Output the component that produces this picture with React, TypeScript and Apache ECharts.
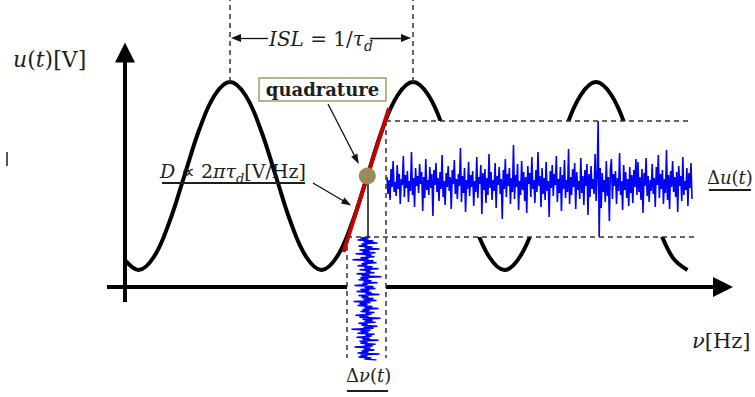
import React, { useEffect, useRef } from "react";
import * as echarts from "echarts";

// Transfer curve u(ν): frequency offset from the u-axis (ν) and output level (u), in diagram units
const curveNu = [0, 13.5, 28.8, 44, 59.3, 74.5, 89.8, 105, 120.3, 135.5, 150.8, 166, 181.3, 196.5, 211.8, 227, 242.3, 257.5, 272.8, 288, 303.3, 318.5, 333.8, 349, 364.3, 379.5, 394.8, 410, 425.3, 440.5, 455.8, 471, 486.3, 501.5, 516.8, 532, 547.3, 562.5];
const curveU = [27, 17, 30, 64, 111, 158, 192, 205, 192, 158, 111, 64, 30, 17, 30, 64, 111, 158, 192, 205, 192, 158, 111, 64, 30, 17, 30, 64, 111, 158, 192, 205, 192, 158, 111, 64, 30, 17];

// Output voltage noise Δu(t)
const noiseU = [
  6, -11, 3, -17, 14, -4, 22, -9, 1, -13, 18, -6, 9, -21, 4, -2, 27, -14, 8, -5,
  12, -19, 2, -8, 31, -12, 5, -24, 15, -3, 7, -10, 19, -1, 11, -28, 6, -15, 24, -7,
  3, -12, 16, -5, 9, -33, 13, -2, 20, -9, 5, -18, 11, -6, 28, -14, 2, -22, 10, -4,
  17, -8, 6, -26, 13, -1, 23, -11, 4, -16, 9, -3, 35, -19, 7, -10, 15, -29, 3, -6,
  21, -13, 8, -4, 12, -23, 2, -9, 26, -15, 6, -1, 18, -31, 10, -7, 14, -20, 5, -12,
  29, -5, 11, -17, 3, -8, 20, -25, 7, -2, 16, -11, 4, -36, 13, -6, 24, -14, 9, -3,
  15, -21, 5, -9, 38, -16, 8, -4, 19, -27, 2, -12, 22, -7, 11, -18, 6, -30, 17, -1,
  10, -14, 26, -6, 3, -20, 13, -9, 31, -3, 7, -24, 15, -11, 5, -17, 21, -8, 2, -34,
  12, -5, 18, -13, 9, -2, 27, -19, 4, -10, 16, -28, 8, -6, 23, -15, 3, -9, 34, -21,
  6, -12, 14, -4, 20, -26, 11, -7, 2, -16, 25, -10, 7, -22, 13, -3, 19, -32, 9, -14,
  17, -6, 4, -11, 29, -18, 8, 62, -54, 15, -25, 10, -9, 3, -19, 22, -13, 6, -38, 14,
  24, -16, 9, -3, 12, -21, 5, -8, 30, -12, 2, -27, 18, -7, 11, -15, 4, -23, 16, -10,
  8, -20, 13, -4, 24, -12, 21, -9, 6, -17, 14, -30, 10, -3, 25, -13, 7, -19, 3, -8,
  19, -11, 5, -24, 16, -2, 28, -15, 9, -6, 13, -21, 4, -10, 33, -17, 8, -26, 12, -4,
  22, -9, 6, -14, 11, -29, 17, -3, 7, -18, 26, -12, 2, -7, 15, -23, 10, -5, 20, -16,
];

// Input frequency noise Δν(t)
const noiseNu = [
  4, -6, 2, -9, 7, -3, 11, -5, 1, -8, 6, -2, 13, -7, 3, -4, 9, -11, 5, -1, 8, -6, 2, -14, 7,
  -3, 10, -5, 1, -9, 6, -2, 12, -7, 4, -1, 8, -10, 3, -5, 15, -6, 2, -8, 5, -3, 11, -4, 1, -12,
  7, -2, 9, -6, 3, -10, 5, -1, 13, -8, 2, -5, 7, -3, 10, -13, 4, -7, 1, -9, 6, -2, 12, -4, 3,
  -6, 8, -1, 5, -11, 2, -7, 14, -4, 6, -2, 9, -8, 1, -5, 11, -3, 7, -15, 4, -6, 2, -9, 8, -1,
  5, -10, 3, -4, 12, -7, 1, -6, 9, -2, 6, -12, 4, -3, 8, -5, 2, -9, 13, -6, 1, -8, 5, -2, 10,
];

// Quadrature operating point and its tangent (slope D)
const quadraturePoint = [242.3, 111];
const tangentFrom = [218.5, 35];
const tangentTo = [264, 179];
// Noise windows [ν0, u0, ν1, u1]
const noiseWindows = [
  [261, 50, 568, 166],
  [222, -71, 261, 50],
];
// Peaks delimiting the ISL
const islPeaks = [105, 288];

const F = '"DejaVu Serif", "Liberation Serif", serif';
const INK = "#1e1e1e";

function rich(size: number) {
  const lh = size + 8;
  return {
    i: { fontFamily: F, fontStyle: "italic", fontSize: size, lineHeight: lh, verticalAlign: "middle", fill: INK },
    r: { fontFamily: F, fontSize: size, lineHeight: lh, verticalAlign: "middle", fill: INK },
    p: { fontFamily: '"DejaVu Sans", sans-serif', fontSize: size, lineHeight: lh, verticalAlign: "middle", fill: INK },
    s: { fontFamily: F, fontStyle: "italic", fontSize: Math.round(size * 0.68), lineHeight: Math.round(size * 0.68), verticalAlign: "bottom", fill: INK },
  };
}

function mathText(text: string, x: number, y: number, size: number) {
  return {
    type: "text",
    x,
    y,
    z: 20,
    silent: true,
    style: { text, rich: rich(size), align: "left", verticalAlign: "middle", fill: INK, fontFamily: F, fontSize: size },
  };
}

function underline(x1: number, x2: number, y: number) {
  return { type: "line", z: 20, silent: true, shape: { x1, y1: y, x2, y2: y }, style: { stroke: INK, lineWidth: 2 } };
}

const dashed = { type: [5, 4], color: "#333", width: 1.5 };
const thin = { type: "solid", color: "#111", width: 1.3 };
const axisStyle = { type: "solid", color: "#000", width: 4 };

function seg(a: number[], b: number[], style: any, endSymbol = "none", endSize: any = 0) {
  return [
    { coord: a, symbol: "none", lineStyle: style },
    { coord: b, symbol: endSymbol, symbolSize: endSize, lineStyle: style },
  ];
}

export default function App() {
  const ref = useRef<HTMLDivElement>(null);
  useEffect(() => {
    if (!ref.current) return;
    const chart = echarts.init(ref.current, undefined, { renderer: "svg" });
    const markLines = [
      // axes
      seg([0, -15], [0, 234.5], axisStyle, "triangle", [20, 20]),
      seg([-18, 0], [222, 0], axisStyle),
      seg([261, 0], [598, 0], axisStyle, "triangle", [20, 20]),
      // ISL dashed verticals
      seg([islPeaks[0], 205], [islPeaks[0], 287], dashed),
      seg([islPeaks[1], 205], [islPeaks[1], 287], dashed),
      // ISL arrows
      seg([143, 249], [111, 249], thin, "triangle", [8, 10]),
      seg([245, 249], [281, 249], thin, "triangle", [8, 10]),
      // noise windows
      seg([261, 166], [567, 166], dashed),
      seg([222, 50], [570, 50], dashed),
      seg([261, 166], [261, -71], dashed),
      seg([222, 50], [222, -71], dashed),
      // pointer arrows
      seg([203, 183], [231.5, 127.5], thin, "triangle", [7, 10]),
      seg([188, 104], [222, 84], thin, "triangle", [7, 10]),
      // drop line from quadrature point
      seg(quadraturePoint, [quadraturePoint[0], 50], { type: "solid", color: "#111", width: 1.5 }),
      // tangent
      seg(tangentFrom, tangentTo, { type: "solid", color: "#c40000", width: 4 }),
    ];

    const option: any = {
      animation: false,
      backgroundColor: "#fff",
      grid: [
        { left: 0, right: 0, top: 0, bottom: 0 },
        { left: 387, top: 121, width: 305, height: 116 },
        { left: 347, top: 237, width: 39, height: 123 },
      ],
      xAxis: [
        { type: "value", gridIndex: 0, min: -125, max: 630, show: false },
        { type: "category", gridIndex: 1, data: noiseU.map((_, i) => String(i)), boundaryGap: false, show: false },
        { type: "value", gridIndex: 2, min: -19.5, max: 19.5, show: false },
      ],
      yAxis: [
        { type: "value", gridIndex: 0, min: -110, max: 287, show: false },
        { type: "value", gridIndex: 1, min: -54, max: 62, show: false },
        { type: "category", gridIndex: 2, data: noiseNu.map((_, i) => String(i)), boundaryGap: false, inverse: true, show: false },
      ],
      series: [
        {
          type: "line",
          name: "u",
          xAxisIndex: 0,
          yAxisIndex: 0,
          data: curveNu.map((n, i) => [n, curveU[i]]),
          smooth: 0.4,
          showSymbol: false,
          silent: true,
          z: 2,
          lineStyle: { color: "#000", width: 4 },
        },
        {
          type: "custom",
          name: "windows",
          xAxisIndex: 0,
          yAxisIndex: 0,
          z: 3,
          silent: true,
          encode: { x: [0, 2], y: [1, 3] },
          data: noiseWindows,
          renderItem: (_p: any, api: any) => {
            const a = api.coord([api.value(0), api.value(3)]);
            const b = api.coord([api.value(2), api.value(1)]);
            return { type: "rect", shape: { x: a[0], y: a[1], width: b[0] - a[0], height: b[1] - a[1] }, style: { fill: "#fff" } };
          },
        },
        {
          type: "line",
          name: "Δu",
          xAxisIndex: 1,
          yAxisIndex: 1,
          data: noiseU,
          showSymbol: false,
          silent: true,
          z: 4,
          lineStyle: { color: "#0000ff", width: 1.6 },
        },
        {
          type: "line",
          name: "Δν",
          xAxisIndex: 2,
          yAxisIndex: 2,
          data: noiseNu,
          showSymbol: false,
          silent: true,
          z: 4,
          lineStyle: { color: "#0000ff", width: 1.5 },
        },
        {
          type: "scatter",
          name: "quadrature",
          xAxisIndex: 0,
          yAxisIndex: 0,
          data: [quadraturePoint],
          symbolSize: 17,
          silent: true,
          z: 6,
          itemStyle: { color: "#9a8b5b", opacity: 1 },
          markLine: {
            silent: true,
            animation: false,
            label: { show: false },
            emphasis: { disabled: true },
            data: markLines,
          },
        },
      ],
      graphic: {
        elements: [
          mathText("{i|u}{r|(}{i|t}{r|)[V]}", 13, 59, 22),
          mathText("{i|ISL}{r| = 1/}{i|τ}{s|d}", 269, 39, 20),
          mathText("{i|D}{p| ∝ }{r|2}{i|πτ}{s|d}{r|[V/Hz]}", 160, 171, 19),
          underline(162, 305, 183),
          mathText("{r|Δ}{i|u}{r|(}{i|t}{r|)}", 707, 177, 18),
          underline(709, 751, 190),
          mathText("{r|Δ}{i|ν}{r|(}{i|t}{r|)}", 346, 375, 18),
          underline(347, 388, 391),
          mathText("{i|ν}{r|[Hz]}", 692, 341, 21),
          {
            type: "rect",
            z: 19,
            silent: true,
            shape: { x: 259, y: 78, width: 127, height: 23 },
            style: { fill: "#fff", stroke: "#a89a6a", lineWidth: 1.5 },
          },
          {
            type: "text",
            z: 20,
            silent: true,
            x: 322.5,
            y: 89.5,
            style: { text: "quadrature", fontFamily: F, fontWeight: "bold", fontSize: 18, fill: INK, align: "center", verticalAlign: "middle" },
          },
          { type: "line", z: 20, silent: true, shape: { x1: 7, y1: 152, x2: 7, y2: 166 }, style: { stroke: "#555", lineWidth: 2 } },
        ],
      },
    };
    chart.setOption(option);
    return () => chart.dispose();
  }, []);
  return <div ref={ref} style={{ position: "fixed", left: 0, top: 0, width: 755, height: 397 }} />;
}
